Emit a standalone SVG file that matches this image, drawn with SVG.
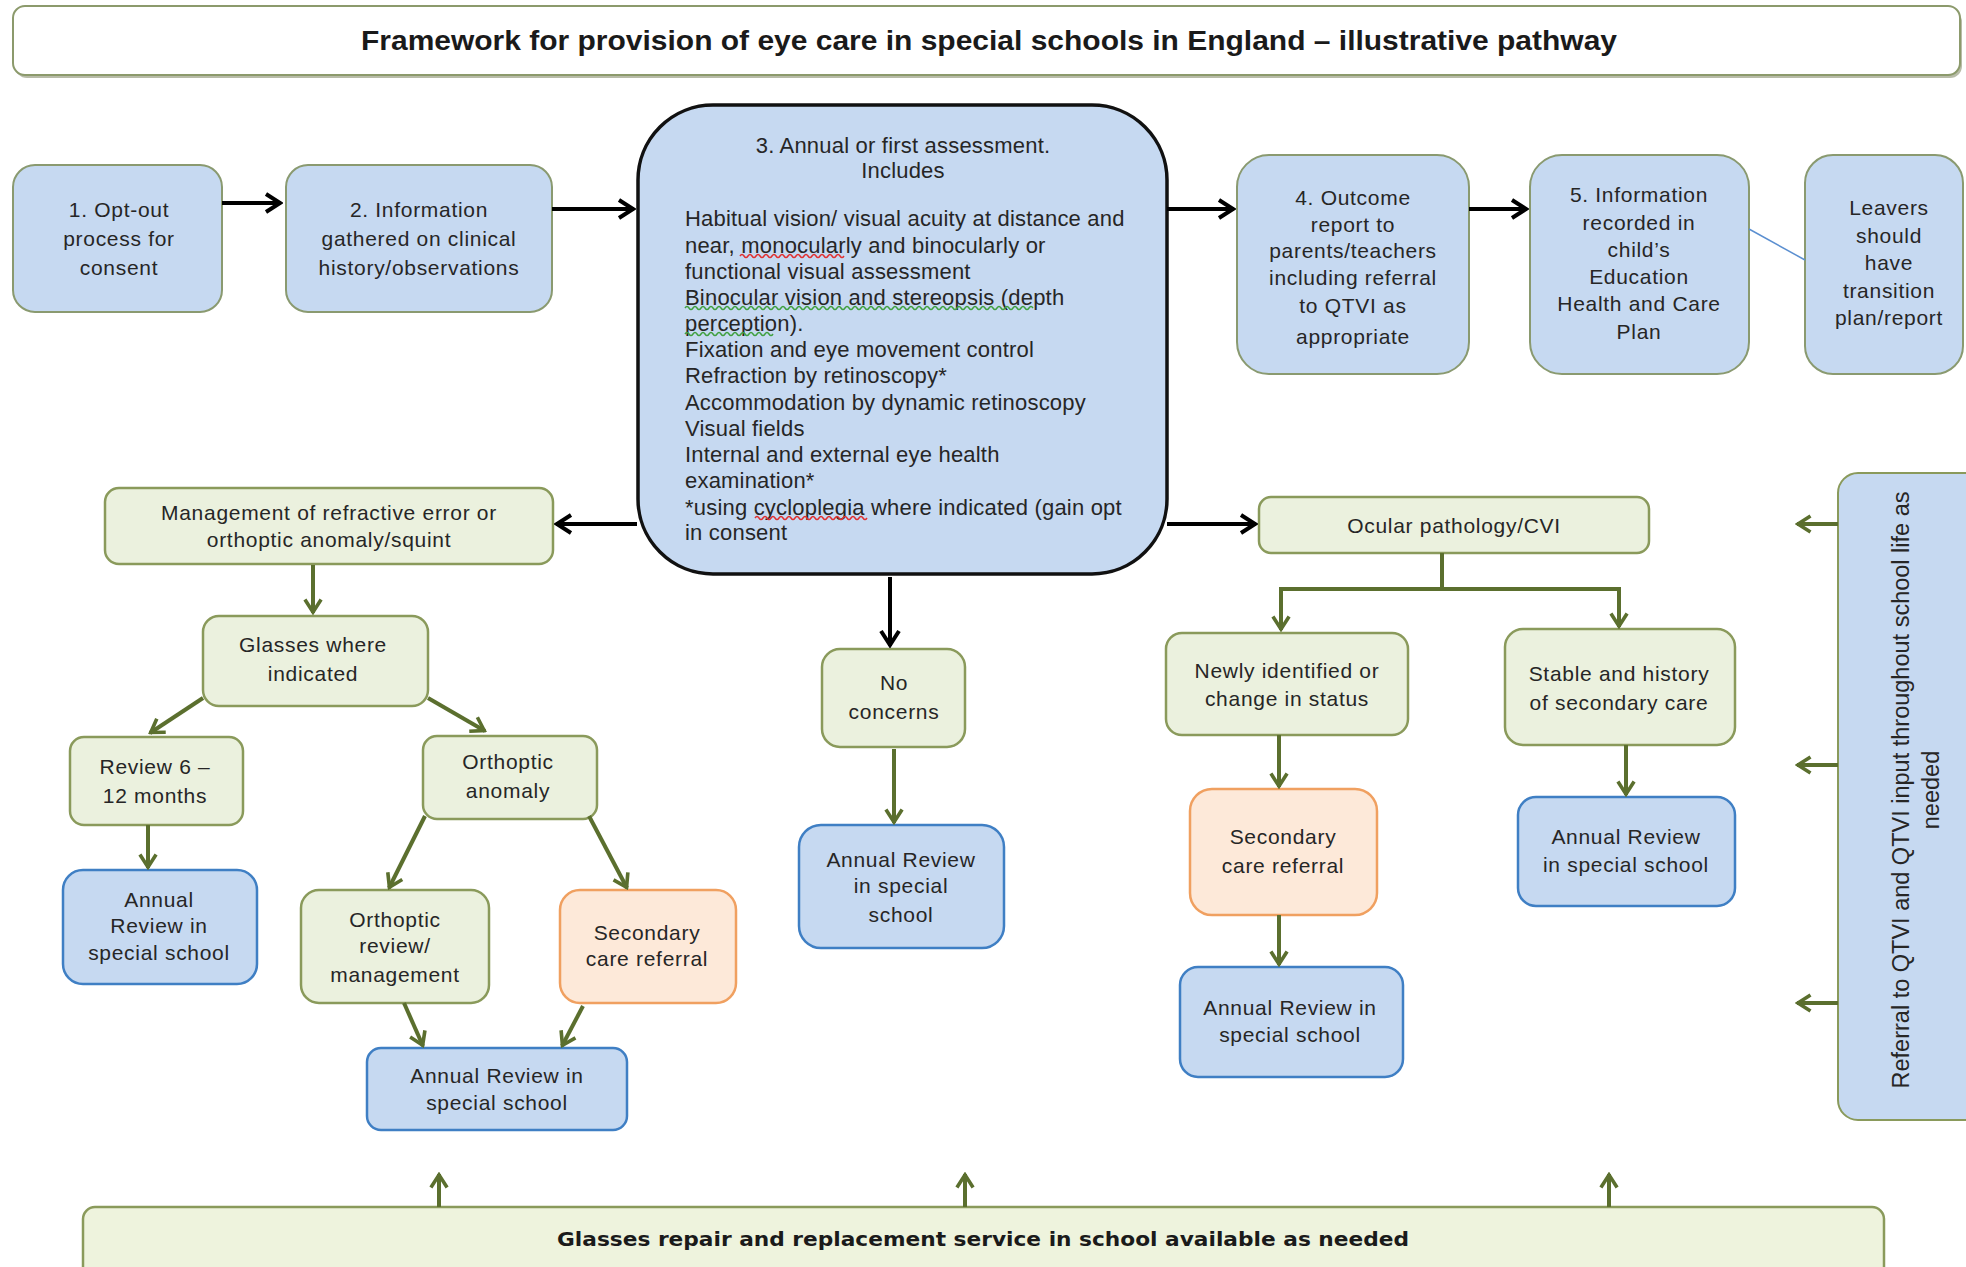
<svg xmlns="http://www.w3.org/2000/svg" width="1966" height="1267" viewBox="0 0 1966 1267">
<style>
.t{font-family:"Liberation Sans",Arial,sans-serif;font-size:21px;letter-spacing:0.7px;fill:#262626;text-anchor:middle;dominant-baseline:central}
.a{font-family:"Liberation Sans",Arial,sans-serif;font-size:22px;letter-spacing:0.2px;fill:#262626;dominant-baseline:central}
.blue{fill:#c6d9f1;stroke:#8a9a70;stroke-width:2}
.blueb{fill:#c6d9f1;stroke:#3f7fc4;stroke-width:2.5}
.green{fill:#ebf1de;stroke:#8a9a5b;stroke-width:2.5}
.orange{fill:#fde9d9;stroke:#f0a060;stroke-width:2.5}
.k{stroke:#000;stroke-width:4;fill:none;marker-end:url(#ak)}
.g{stroke:#5b6f2e;stroke-width:4;fill:none;marker-end:url(#ag)}
.gl{stroke:#5b6f2e;stroke-width:4;fill:none}
.sqr{stroke:#e03030;stroke-width:1.5;fill:none}
.sqg{stroke:#40a040;stroke-width:1.5;fill:none}
</style>
<defs>
<marker id="ak" viewBox="0 0 20 24" refX="18" refY="12" markerWidth="20" markerHeight="24" markerUnits="userSpaceOnUse" orient="auto"><path d="M3,3 L17,12 L3,21" fill="none" stroke="#000" stroke-width="4"/></marker>
<marker id="ag" viewBox="0 0 20 24" refX="18" refY="12" markerWidth="18" markerHeight="22" markerUnits="userSpaceOnUse" orient="auto"><path d="M3,3 L17,12 L3,21" fill="none" stroke="#5b6f2e" stroke-width="4"/></marker>
</defs>
<rect width="1966" height="1267" fill="#fff"/>

<g id="title">
<rect x="15" y="10" width="1947" height="68" rx="12" fill="#b8bca8"/>
<rect x="13" y="6" width="1947" height="69" rx="12" fill="#fff" stroke="#8c9a6c" stroke-width="2"/>
<text x="989" y="41" font-family="Liberation Sans,Arial,sans-serif" font-weight="bold" font-size="27" fill="#1a1a1a" text-anchor="middle" dominant-baseline="central" textLength="1256" lengthAdjust="spacingAndGlyphs">Framework for provision of eye care in special schools in England – illustrative pathway</text>
</g>

<g id="n1"><rect class="blue" x="13" y="165" width="209" height="147" rx="22"/>
<text class="t" x="119"><tspan x="119" y="209">1. Opt-out</tspan><tspan x="119" y="238">process for</tspan><tspan x="119" y="267">consent</tspan></text></g>

<g id="n2"><rect class="blue" x="286" y="165" width="266" height="147" rx="22"/>
<text class="t"><tspan x="419" y="209">2. Information</tspan><tspan x="419" y="238">gathered on clinical</tspan><tspan x="419" y="267">history/observations</tspan></text></g>

<g id="n3"><rect x="638" y="105" width="529" height="469" rx="75" fill="#c6d9f1" stroke="#111" stroke-width="3.5"/>
<text class="a" text-anchor="middle"><tspan x="903" y="145">3. Annual or first assessment.</tspan><tspan x="903" y="170">Includes</tspan></text>
<text class="a">
<tspan x="685" y="218">Habitual vision/ visual acuity at distance and</tspan>
<tspan x="685" y="245">near, monocularly and binocularly or</tspan>
<tspan x="685" y="271">functional visual assessment</tspan>
<tspan x="685" y="297">Binocular vision and stereopsis (depth</tspan>
<tspan x="685" y="323">perception).</tspan>
<tspan x="685" y="349">Fixation and eye movement control</tspan>
<tspan x="685" y="375">Refraction by retinoscopy*</tspan>
<tspan x="685" y="402">Accommodation by dynamic retinoscopy</tspan>
<tspan x="685" y="428">Visual fields</tspan>
<tspan x="685" y="454">Internal and external eye health</tspan>
<tspan x="685" y="480">examination*</tspan>
<tspan x="685" y="507">*using cycloplegia where indicated (gain opt</tspan>
<tspan x="685" y="532">in consent</tspan>
</text>
<path class="sqr" d="M740,256 q2,-3 4,0 t4,0 t4,0 t4,0 t4,0 t4,0 t4,0 t4,0 t4,0 t4,0 t4,0 t4,0 t4,0 t4,0 t4,0 t4,0 t4,0 t4,0 t4,0 t4,0 t4,0 t4,0 t4,0 t4,0 t4,0 t4,0"/>
<path class="sqg" d="M685,308 q2,-3 4,0 t4,0 t4,0 t4,0 t4,0 t4,0 t4,0 t4,0 t4,0 t4,0 t4,0 t4,0 t4,0 t4,0 t4,0 t4,0 t4,0 t4,0 t4,0 t4,0 t4,0 t4,0 t4,0 t4,0 t4,0 t4,0 t4,0 t4,0 t4,0 t4,0 t4,0 t4,0 t4,0 t4,0 t4,0 t4,0 t4,0 t4,0 t4,0 t4,0 t4,0 t4,0 t4,0 t4,0 t4,0 t4,0 t4,0 t4,0 t4,0 t4,0 t4,0 t4,0 t4,0 t4,0 t4,0 t4,0 t4,0 t4,0 t4,0 t4,0 t4,0 t4,0 t4,0 t4,0 t4,0 t4,0 t4,0 t4,0 t4,0 t4,0 t4,0 t4,0 t4,0 t4,0 t4,0 t4,0 t4,0 t4,0 t4,0 t4,0 t4,0 t4,0 t4,0 t4,0 t4,0 t4,0 t4,0"/>
<path class="sqg" d="M685,334 q2,-3 4,0 t4,0 t4,0 t4,0 t4,0 t4,0 t4,0 t4,0 t4,0 t4,0 t4,0 t4,0 t4,0 t4,0 t4,0 t4,0 t4,0 t4,0 t4,0 t4,0 t4,0 t4,0"/>
<path class="sqr" d="M755,518 q2,-3 4,0 t4,0 t4,0 t4,0 t4,0 t4,0 t4,0 t4,0 t4,0 t4,0 t4,0 t4,0 t4,0 t4,0 t4,0 t4,0 t4,0 t4,0 t4,0 t4,0 t4,0 t4,0 t4,0 t4,0 t4,0 t4,0 t4,0 t4,0"/>
</g>

<g id="n4"><rect class="blue" x="1237" y="155" width="232" height="219" rx="32"/>
<text class="t"><tspan x="1353" y="197">4. Outcome</tspan><tspan x="1353" y="224">report to</tspan><tspan x="1353" y="250">parents/teachers</tspan><tspan x="1353" y="277">including  referral</tspan><tspan x="1353" y="305">to QTVI as</tspan><tspan x="1353" y="336">appropriate</tspan></text></g>

<g id="n5"><rect class="blue" x="1530" y="155" width="219" height="219" rx="32"/>
<text class="t"><tspan x="1639" y="194">5. Information</tspan><tspan x="1639" y="222">recorded in</tspan><tspan x="1639" y="249">child’s</tspan><tspan x="1639" y="276">Education</tspan><tspan x="1639" y="303">Health and Care</tspan><tspan x="1639" y="331">Plan</tspan></text></g>

<g id="leavers"><rect class="blue" x="1805" y="155" width="158" height="219" rx="28"/>
<text class="t"><tspan x="1889" y="207">Leavers</tspan><tspan x="1889" y="235">should</tspan><tspan x="1889" y="262">have</tspan><tspan x="1889" y="290">transition</tspan><tspan x="1889" y="317">plan/report</tspan></text></g>

<g id="mgmt"><rect class="green" x="105" y="488" width="448" height="76" rx="14"/>
<text class="t"><tspan x="329" y="512">Management of refractive error or</tspan><tspan x="329" y="539">orthoptic  anomaly/squint</tspan></text></g>

<g id="ocular"><rect class="green" x="1259" y="497" width="390" height="56" rx="12"/>
<text class="t" x="1454" y="525">Ocular pathology/CVI</text></g>

<g id="noconcerns"><rect class="green" x="822" y="649" width="143" height="98" rx="18"/>
<text class="t"><tspan x="894" y="682">No</tspan><tspan x="894" y="711">concerns</tspan></text></g>

<g id="annualC"><rect class="blueb" x="799" y="825" width="205" height="123" rx="22"/>
<text class="t"><tspan x="901" y="859">Annual Review</tspan><tspan x="901" y="885">in special</tspan><tspan x="901" y="914">school</tspan></text></g>

<g id="glasses"><rect class="green" x="203" y="616" width="225" height="90" rx="16"/>
<text class="t"><tspan x="313" y="644">Glasses where</tspan><tspan x="313" y="673">indicated</tspan></text></g>

<g id="review612"><rect class="green" x="70" y="737" width="173" height="88" rx="14"/>
<text class="t"><tspan x="155" y="766">Review 6 –</tspan><tspan x="155" y="795">12 months</tspan></text></g>

<g id="annualL"><rect class="blueb" x="63" y="870" width="194" height="114" rx="20"/>
<text class="t"><tspan x="159" y="899">Annual</tspan><tspan x="159" y="925">Review in</tspan><tspan x="159" y="952">special school</tspan></text></g>

<g id="orthanomaly"><rect class="green" x="423" y="736" width="174" height="83" rx="14"/>
<text class="t"><tspan x="508" y="761">Orthoptic</tspan><tspan x="508" y="790">anomaly</tspan></text></g>

<g id="orthreview"><rect class="green" x="301" y="890" width="188" height="113" rx="18"/>
<text class="t"><tspan x="395" y="919">Orthoptic</tspan><tspan x="395" y="945">review/</tspan><tspan x="395" y="974">management</tspan></text></g>

<g id="secL"><rect class="orange" x="560" y="890" width="176" height="113" rx="20"/>
<text class="t"><tspan x="647" y="932">Secondary</tspan><tspan x="647" y="958">care referral</tspan></text></g>

<g id="annualB"><rect class="blueb" x="367" y="1048" width="260" height="82" rx="14"/>
<text class="t"><tspan x="497" y="1075">Annual Review in</tspan><tspan x="497" y="1102">special school</tspan></text></g>

<g id="newly"><rect class="green" x="1166" y="633" width="242" height="102" rx="16"/>
<text class="t"><tspan x="1287" y="670">Newly identified  or</tspan><tspan x="1287" y="698">change in status</tspan></text></g>

<g id="secR"><rect class="orange" x="1190" y="789" width="187" height="126" rx="22"/>
<text class="t"><tspan x="1283" y="836">Secondary</tspan><tspan x="1283" y="865">care referral</tspan></text></g>

<g id="annualRB"><rect class="blueb" x="1180" y="967" width="223" height="110" rx="18"/>
<text class="t"><tspan x="1290" y="1007">Annual Review in</tspan><tspan x="1290" y="1034">special school</tspan></text></g>

<g id="stable"><rect class="green" x="1505" y="629" width="230" height="116" rx="18"/>
<text class="t"><tspan x="1619" y="673">Stable and history</tspan><tspan x="1619" y="702">of secondary care</tspan></text></g>

<g id="annualR"><rect class="blueb" x="1518" y="797" width="217" height="109" rx="18"/>
<text class="t"><tspan x="1626" y="836">Annual Review</tspan><tspan x="1626" y="864">in special school</tspan></text></g>

<g id="referral"><rect x="1838" y="473" width="160" height="647" rx="20" fill="#c6d9f1" stroke="#8a9a5b" stroke-width="2"/>
<text transform="translate(1901,790) rotate(-90)" font-family="Liberation Sans,Arial,sans-serif" font-size="23.5" fill="#262626" text-anchor="middle" dominant-baseline="central"><tspan x="0" y="0">Referral to QTVI and QTVI input throughout school life as</tspan><tspan x="0" y="30">needed</tspan></text></g>

<g id="repair"><rect x="83" y="1207" width="1801" height="90" rx="12" fill="#eef3dd" stroke="#8a9a5b" stroke-width="2.5"/>
<text x="983" y="1239" font-family="DejaVu Sans,Verdana,sans-serif" font-weight="bold" font-size="19" fill="#1a1a1a" text-anchor="middle" dominant-baseline="central" textLength="852" lengthAdjust="spacingAndGlyphs">Glasses repair and replacement service in school available as needed</text></g>

<g id="connectors">
<path class="k" d="M222,203 H281"/>
<path class="k" d="M552,209 H634"/>
<path class="k" d="M1167,209 H1234"/>
<path class="k" d="M1469,209 H1527"/>
<path class="k" d="M637,524 H556"/>
<path class="k" d="M1167,524 H1256"/>
<path class="k" d="M890,577 V646"/>
<path class="g" d="M313,565 V613"/>
<path class="g" d="M203,698 L150,733"/>
<path class="g" d="M428,698 L485,731"/>
<path class="g" d="M148,825 V868"/>
<path class="g" d="M425,816 L389,888"/>
<path class="g" d="M589,816 L627,888"/>
<path class="g" d="M404,1003 L423,1046"/>
<path class="g" d="M583,1006 L562,1046"/>
<path class="g" d="M894,749 V823"/>
<path class="gl" d="M1442,553 V589 M1279,589 H1621"/>
<path class="g" d="M1281,587 V630"/>
<path class="g" d="M1619,587 V627"/>
<path class="g" d="M1279,735 V787"/>
<path class="g" d="M1279,915 V965"/>
<path class="g" d="M1626,745 V795"/>
<path class="g" d="M1838,524 H1797"/>
<path class="g" d="M1838,765 H1797"/>
<path class="g" d="M1838,1003 H1797"/>
<path class="g" d="M439,1207 V1174"/>
<path class="g" d="M965,1207 V1174"/>
<path class="g" d="M1609,1207 V1174"/>
<path d="M1749,229 L1805,260" stroke="#5b8fd0" stroke-width="1.5" fill="none"/>
</g>
</svg>
